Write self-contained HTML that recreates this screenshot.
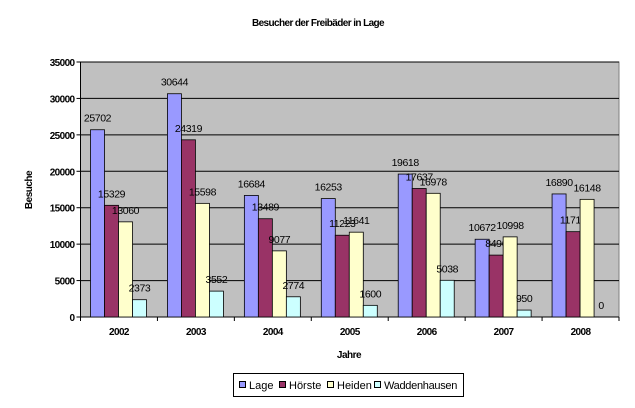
<!DOCTYPE html>
<html><head><meta charset="utf-8"><style>
body{margin:0;background:#fff;}
svg{display:block;font-family:"Liberation Sans",sans-serif;}
</style></head><body>
<svg id="chart" width="635" height="408">
<text x="318" y="26" text-anchor="middle" font-size="10" font-weight="bold" letter-spacing="-0.6">Besucher der Freibäder in Lage</text>
<text transform="translate(32,190) rotate(-90)" text-anchor="middle" font-size="10" font-weight="bold" letter-spacing="-0.5">Besuche</text>
<text x="349" y="358" text-anchor="middle" font-size="10" font-weight="bold" letter-spacing="-0.5">Jahre</text>
<g id="plot"></g>
<g>
<rect x="233.5" y="373.5" width="230" height="23" fill="#fff" stroke="#000"/>
<rect x="239.5" y="381.5" width="6" height="6" fill="#9999ff" stroke="#000"/>
<text x="249" y="389" font-size="11">Lage</text>
<rect x="279.5" y="381.5" width="6" height="6" fill="#993366" stroke="#000"/>
<text x="289" y="389" font-size="11">Hörste</text>
<rect x="327.5" y="381.5" width="6" height="6" fill="#ffffcc" stroke="#000"/>
<text x="337" y="389" font-size="11">Heiden</text>
<rect x="374.5" y="381.5" width="6" height="6" fill="#ccffff" stroke="#000"/>
<text x="384" y="389" font-size="11" letter-spacing="-0.3">Waddenhausen</text>
</g>
</svg>
<script>
const categories=["2002","2003","2004","2005","2006","2007","2008"];
const lage=[25702,30644,16684,16253,19618,10672,16890];
const hoerste=[15329,24319,13489,11223,17637,8496,11712];
const heiden=[13060,15598,9077,11641,16978,10998,16148];
const waddenhausen=[2373,3552,2774,1600,5038,950,0];
const yTicks=[0,5000,10000,15000,20000,25000,30000,35000];
const seriesNames=["Lage","Hörste","Heiden","Waddenhausen"];
const colors=["#9999ff","#993366","#ffffcc","#ccffff"];
const L=80.5,R=619,T=62,B=317,yMax=35000;
const y=v=>B-(v/yMax)*(B-T);
const gw=(R-L)/categories.length;
const x=i=>L+i*gw;
const ns="http://www.w3.org/2000/svg";
const g=document.getElementById("plot");
function mk(t,a){const e=document.createElementNS(ns,t);for(const k in a)e.setAttribute(k,a[k]);g.appendChild(e);return e;}
let bg=mk("rect",{x:L,y:T,width:R-L,height:B-T,fill:"#c0c0c0",stroke:"#808080"});


yTicks.forEach(t=>{
  if(t>0){let gl=mk("line",{x1:L,x2:R,y1:y(t),y2:y(t),stroke:"#000"});
  
  }
  mk("line",{x1:L-4,x2:L,y1:y(t),y2:y(t),stroke:"#000"});
  let tl=mk("text",{x:L-6,y:y(t)+4,"text-anchor":"end","font-size":"10","font-weight":"bold","letter-spacing":"-0.6"});
  tl.textContent=t;
  
  
});
mk("line",{x1:L,x2:L,y1:T,y2:B,stroke:"#000"});
mk("line",{x1:L,x2:R,y1:B,y2:B,stroke:"#000"});
const series=[lage,hoerste,heiden,waddenhausen];
const bw=14;
categories.forEach((c,i)=>{
  mk("line",{x1:x(i),x2:x(i),y1:B,y2:B+4,stroke:"#000"});
  let cl=mk("text",{x:x(i)+gw/2,y:B+18,"text-anchor":"middle","font-size":"10","font-weight":"bold","letter-spacing":"-0.6"});
  cl.textContent=c;
  
  
  series.forEach((s,j)=>{
    const bx=x(i)+10+j*bw;
    const v=s[i];
    if(v>0){let b=mk("rect",{x:bx,y:y(v),width:bw,height:B-y(v),fill:colors[j],stroke:"#000","stroke-width":"0.8"});
    
    }
    let vl=mk("text",{x:bx+bw/2,y:y(v)-8,"text-anchor":"middle","font-size":"10.5","letter-spacing":"-0.4"});
    vl.textContent=v;
    
    
  });
});
mk("line",{x1:R,x2:R,y1:B,y2:B+4,stroke:"#000"});
</script>
</body></html>
